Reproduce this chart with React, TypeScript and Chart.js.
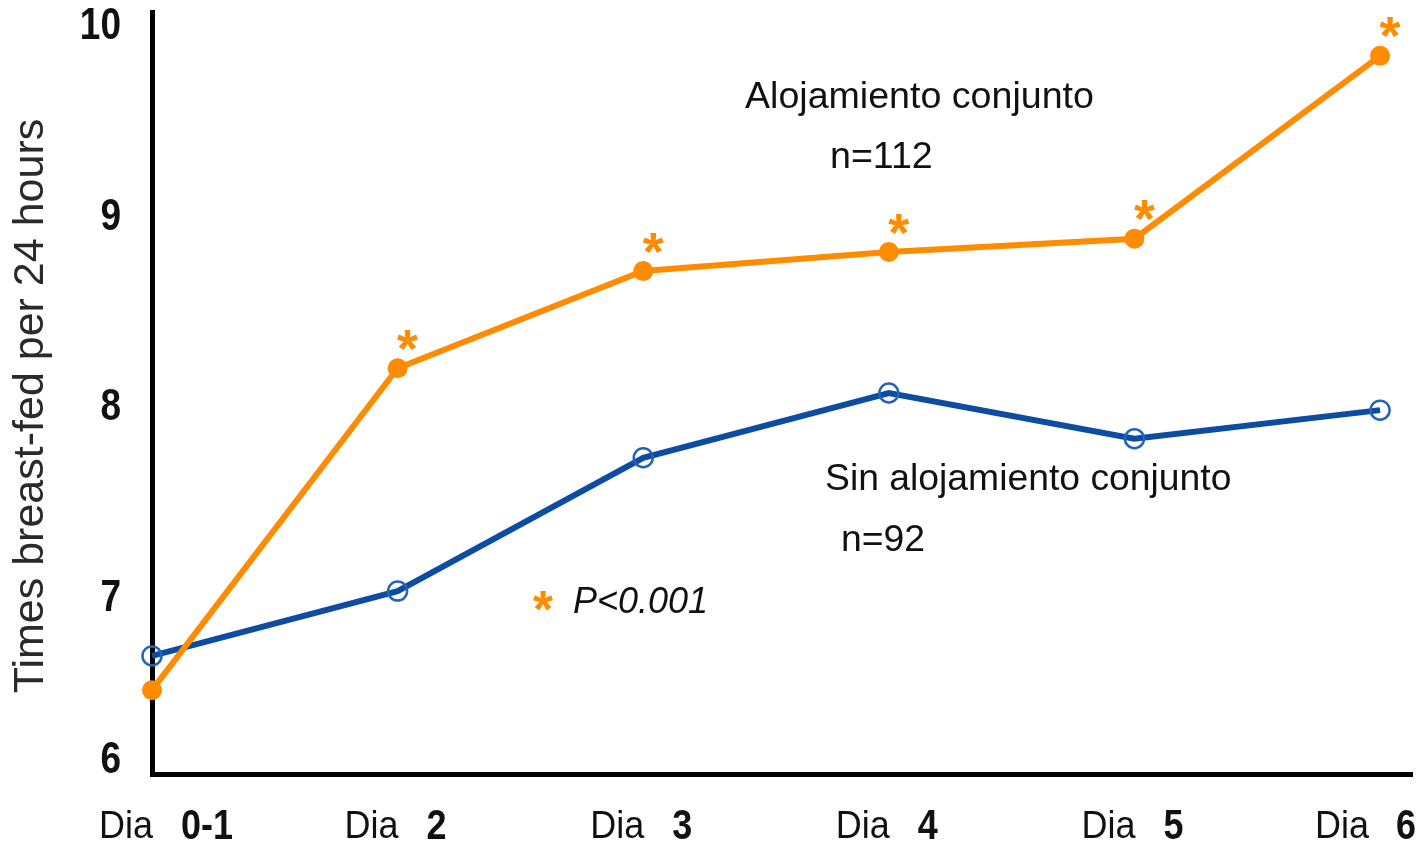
import React, { useEffect, useRef } from 'react';
import { Chart, registerables } from 'chart.js';

Chart.register(...registerables);

const dayPrefix = 'Dia';
const dayLabels = ['0-1', '2', '3', '4', '5', '6'];
const conjuntoValues = [6.52, 8.21, 8.72, 8.82, 8.89, 9.85];
const sinConjuntoValues = [6.70, 7.04, 7.74, 8.08, 7.84, 7.99];
const significant = [false, true, true, true, true, true];
const yTickValues = [6.15, 7, 8, 9, 10];
const yTickLabels = ['6', '7', '8', '9', '10'];
const yTitle = 'Times breast-fed per 24 hours';
const seriesNames = ['Alojamiento conjunto', 'Sin alojamiento conjunto'];
const seriesCounts = ['n=112', 'n=92'];
const pNote = 'P<0.001';

const ORANGE = '#FF8C00';
const BLUE = '#0C4DA2';
const FONT = '"Liberation Sans", Arial, Helvetica, sans-serif';

function drawText(
  ctx: CanvasRenderingContext2D,
  text: string,
  x: number,
  y: number,
  font: string,
  color: string,
  align: CanvasTextAlign,
  baseline: CanvasTextBaseline,
  sy = 1
) {
  ctx.save();
  ctx.translate(x, y);
  ctx.scale(1, sy);
  ctx.font = font;
  ctx.fillStyle = color;
  ctx.textAlign = align;
  ctx.textBaseline = baseline;
  ctx.fillText(text, 0, 0);
  ctx.restore();
}

function drawStar(ctx: CanvasRenderingContext2D, cx: number, cy: number, width: number) {
  ctx.save();
  ctx.font = `bold 100px ${FONT}`;
  const m = ctx.measureText('*');
  const w100 = m.actualBoundingBoxRight + m.actualBoundingBoxLeft || 39;
  const size = (width / w100) * 100;
  ctx.font = `bold ${size}px ${FONT}`;
  const mm = ctx.measureText('*');
  const asc = mm.actualBoundingBoxAscent;
  const desc = mm.actualBoundingBoxDescent;
  const left = mm.actualBoundingBoxLeft;
  const right = mm.actualBoundingBoxRight;
  ctx.fillStyle = ORANGE;
  ctx.textAlign = 'left';
  ctx.textBaseline = 'alphabetic';
  ctx.fillText('*', cx - (right - left) / 2, cy + (asc - desc) / 2);
  ctx.restore();
}

const textPlugin = {
  id: 'textPlugin',
  afterDraw(chart: any) {
    const ctx: CanvasRenderingContext2D = chart.ctx;
    const xs = chart.scales.x;
    const ys = chart.scales.y;

    // y tick labels
    yTickValues.forEach((v, i) => {
      drawText(ctx, yTickLabels[i], 121, ys.getPixelForValue(v), `bold 37px ${FONT}`, '#111', 'right', 'middle', 1.18);
    });

    // y title
    ctx.save();
    ctx.translate(43, 406);
    ctx.rotate(-Math.PI / 2);
    ctx.font = `43px ${FONT}`;
    ctx.fillStyle = '#2a2a2a';
    ctx.textAlign = 'center';
    ctx.textBaseline = 'alphabetic';
    ctx.fillText(yTitle, 0, 0);
    ctx.restore();

    // x labels
    const numFont = `bold 36px ${FONT}`;
    dayLabels.forEach((lab, i) => {
      const px = xs.getPixelForValue(i);
      ctx.save();
      ctx.font = numFont;
      const nw = ctx.measureText(lab).width;
      ctx.restore();
      const numX = Math.min(px + 29, chart.width - 8 - nw);
      const diaRight = Math.min(px + 1, numX - 27);
      drawText(ctx, dayPrefix, diaRight, 827, `36px ${FONT}`, '#111', 'right', 'middle', 1.08);
      drawText(ctx, lab, numX, 827, numFont, '#111', 'left', 'middle', 1.2);
    });

    // significance stars
    significant.forEach((s, i) => {
      if (!s) return;
      const px = xs.getPixelForValue(i);
      const py = ys.getPixelForValue(conjuntoValues[i]);
      drawStar(ctx, px + 10, py - 28, 21);
    });

    // annotations
    drawText(ctx, seriesNames[0], 745, 108, `37.6px ${FONT}`, '#111', 'left', 'alphabetic');
    drawText(ctx, seriesCounts[0], 830, 168, `37.6px ${FONT}`, '#111', 'left', 'alphabetic');
    drawText(ctx, seriesNames[1], 825, 490, `37.3px ${FONT}`, '#111', 'left', 'alphabetic');
    drawText(ctx, seriesCounts[1], 841, 551, `37.3px ${FONT}`, '#111', 'left', 'alphabetic');
    drawStar(ctx, 543, 601, 20);
    drawText(ctx, pNote, 573, 613, `italic 36px ${FONT}`, '#111', 'left', 'alphabetic');
  },
};

export default function App() {
  const canvasRef = useRef<HTMLCanvasElement | null>(null);

  useEffect(() => {
    if (!canvasRef.current) return;
    const chart = new Chart(canvasRef.current, {
      type: 'line',
      data: {
        datasets: [
          {
            label: seriesNames[0],
            data: conjuntoValues.map((v, i) => ({ x: i, y: v })),
            borderColor: ORANGE,
            backgroundColor: ORANGE,
            borderWidth: 6,
            pointRadius: 10,
            pointBorderWidth: 0,
            pointBackgroundColor: ORANGE,
            tension: 0,
            clip: false as any,
          },
          {
            label: seriesNames[1],
            data: sinConjuntoValues.map((v, i) => ({ x: i, y: v })),
            borderColor: BLUE,
            backgroundColor: 'rgba(0,0,0,0)',
            borderWidth: 6,
            pointRadius: 9.5,
            pointBorderWidth: 2.5,
            pointBorderColor: '#2563B8',
            pointBackgroundColor: 'rgba(0,0,0,0)',
            tension: 0,
            clip: false as any,
          },
        ],
      },
      options: {
        animation: false,
        responsive: true,
        maintainAspectRatio: false,
        layout: { padding: { top: 12, right: 1, left: 0, bottom: 0 } },
        plugins: {
          legend: { display: false },
          tooltip: { enabled: false },
        },
        scales: {
          x: {
            type: 'linear',
            min: 0,
            max: 5.13,
            grid: { display: false, drawTicks: false },
            border: { display: true, color: '#000', width: 5 },
            ticks: { display: false },
            afterFit: (s: any) => {
              s.height = 75;
            },
          },
          y: {
            type: 'linear',
            min: 6.08,
            max: 10.08,
            grid: { display: false, drawTicks: false },
            border: { display: true, color: '#000', width: 5 },
            ticks: { display: false },
            afterBuildTicks: (s: any) => {
              s.ticks = yTickValues.map((v) => ({ value: v }));
            },
            afterFit: (s: any) => {
              s.width = 152;
            },
          },
        },
      },
      plugins: [textPlugin],
    });
    return () => chart.destroy();
  }, []);

  return (
    <div style={{ position: 'fixed', left: 0, top: 0, width: 1424, height: 849, background: '#fff' }}>
      <canvas ref={canvasRef} />
    </div>
  );
}
